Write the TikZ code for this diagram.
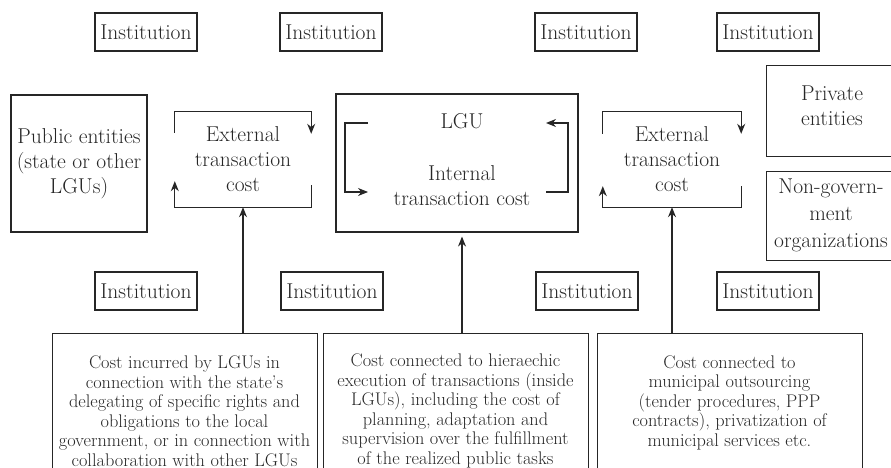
\documentclass[tikz,border=0pt]{standalone}
\usetikzlibrary{arrows.meta,calc}
\definecolor{ink}{HTML}{262626}
\begin{document}
\begin{tikzpicture}[x=1pt,y=-1pt,
  every node/.style={text=ink},
  big/.style={font=\fontsize{21.5}{25}\selectfont, align=center},
  small/.style={font=\fontsize{18.3}{19.5}\selectfont, align=center},
  inst/.style={draw=ink, line width=1.1pt, big, inner sep=2pt, minimum width=102pt, minimum height=38pt},
  box/.style={draw=ink, line width=1.1pt, inner sep=0pt},
  conn/.style={draw=ink, line width=1.1pt, -{Stealth[length=10pt,width=8pt]}},
  brk/.style={draw=ink, line width=1.1pt}]
\useasboundingbox (0,0) rectangle (891,468);
\clip (0,0) rectangle (891,468);

% Institutions
\node[inst] (i1) at (146,32) {Institution};
\node[inst] (i2) at (331,32) {Institution};
\node[inst] (i3) at (586,32) {Institution};
\node[inst] (i4) at (768,32) {Institution};
\node[inst] (i5) at (146,291) {Institution};
\node[inst] (i6) at (332,291) {Institution};
\node[inst] (i7) at (587,291) {Institution};
\node[inst] (i8) at (768,291) {Institution};

% Public entities
\node[box, big, minimum width=136pt, minimum height=137pt] (pub) at (79,163.5) {Public entities\\(state or other\\LGUs)};

% External transaction cost (left)
\node[big, minimum width=136pt, minimum height=95pt, inner sep=0pt] (e1) at (243,159.5) {External\\transaction\\cost};
\draw[conn] ($(e1.north west)+(0,21)$) -- (e1.north west) -- (e1.north east) -- ($(e1.north east)+(0,22)$);
\draw[conn] ($(e1.south east)+(0,-22)$) -- (e1.south east) -- (e1.south west) -- ($(e1.south west)+(0,-26)$);

% LGU
\node[box, minimum width=242pt, minimum height=138pt] (lgu) at (457,163) {};
\node[big] (lgut) at (462,121) {LGU};
\node[big] (intt) at (462,186) {Internal\\transaction cost};
\coordinate (la) at (368,123);
\coordinate (lb) at (345,123);
\coordinate (lc) at (345,192);
\coordinate (ld) at (368,192);
\coordinate (ra) at (546,192);
\coordinate (rb) at (568,192);
\coordinate (rc) at (568,123);
\coordinate (rd) at (546,123);
\draw[conn] (la) -- (lb) -- (lc) -- (ld);
\draw[conn] (ra) -- (rb) -- (rc) -- (rd);

% External transaction cost (right)
\node[big, minimum width=138pt, minimum height=95pt, inner sep=0pt] (e2) at (672,159.5) {External\\transaction\\cost};
\draw[conn] ($(e2.north west)+(0,22)$) -- (e2.north west) -- (e2.north east) -- ($(e2.north east)+(0,22)$);
\draw[conn] ($(e2.south east)+(0,-21)$) -- (e2.south east) -- (e2.south west) -- ($(e2.south west)+(0,-21)$);

% Private / NGO
\node[box, anchor=north west, minimum width=150pt, minimum height=91pt] (priv) at (766,65) {};
\node[big] (privt) at (832,106) {Private\\entities};
\node[box, anchor=north west, minimum width=150pt, minimum height=89pt] (ngo) at (766,171) {};
\node[big, font=\fontsize{21.5}{27}\selectfont] (ngot) at (831,215) {Non-govern-\\ment\\organizations};

% Bottom boxes
\node[box, anchor=north west, minimum width=265pt, minimum height=150pt] (b1) at (52,333) {};
\node[small] (t1) at (184.5,411) {Cost incurred by LGUs in\\connection with the state's\\delegating of specific rights and\\obligations to the local\\government, or in connection with\\collaboration with other LGUs};
\node[box, anchor=north west, minimum width=265pt, minimum height=150pt] (b2) at (323,333) {};
\node[small] (t2) at (455.5,411) {Cost connected to hieraechic\\execution of transactions (inside\\LGUs), including the cost of\\planning, adaptation and\\supervision over the fulfillment\\of the realized public tasks};
\node[box, anchor=north west, minimum width=265pt, minimum height=150pt] (b3) at (597,333) {};
\node[small] (t3) at (729.5,402.5) {Cost connected to\\municipal outsourcing\\(tender procedures, PPP\\contracts), privatization of\\municipal services etc.};

% Vertical connectors
\draw[conn] (b1.north -| e1.south) -- (e1.south);
\draw[conn, shorten >=4pt] (b2.north -| lgut) -- (lgut |- lgu.south);
\draw[conn] (b3.north -| e2.south) -- (e2.south);
\end{tikzpicture}
\end{document}
